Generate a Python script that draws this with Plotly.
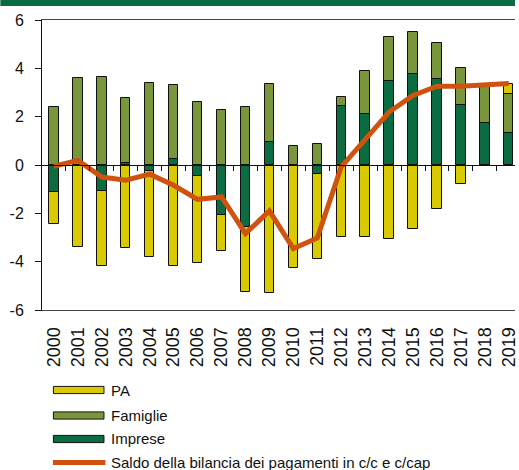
import plotly.graph_objects as go

years = [str(y) for y in range(2000, 2020)]
imprese = [-1.13, 0.0, -1.09, 0.07, -0.25, 0.23, -0.47, -2.06, -2.57, 0.95,
           0.0, -0.39, 2.46, 2.10, 3.46, 3.75, 3.54, 2.48, 1.74, 1.34]
famiglie = [2.39, 3.59, 3.64, 2.69, 3.39, 3.08, 2.59, 2.26, 2.40, 2.39,
            0.77, 0.88, 0.37, 1.79, 1.82, 1.75, 1.51, 1.55, 1.55, 1.58]
pa = [-1.31, -3.41, -3.09, -3.42, -3.57, -4.19, -3.57, -1.51, -2.70, -5.28,
      -4.25, -3.50, -2.99, -2.97, -3.05, -2.65, -1.81, -0.80, -0.03, 0.42]
saldo = [-0.05, 0.19, -0.50, -0.63, -0.38, -0.84, -1.42, -1.32, -2.84, -1.90,
         -3.46, -3.02, -0.08, 1.09, 2.19, 2.88, 3.26, 3.26, 3.30, 3.37]
ytick_vals = [-6, -4, -2, 0, 2, 4, 6]
ytick_text = ["-6", "-4", "-2", "0", "2", "4", "6"]

C_PA = "#D9C900"
C_FAM = "#7A963A"
C_IMP = "#0A6C40"
C_LINE = "#D0520F"
FONT = "Liberation Sans, Arial, sans-serif"

W, H = 519, 470
L, R, T, B = 42, 0, 20, 160
PW, PH = W - L - R, H - T - B

xpos = list(range(len(years)))

fig = go.Figure()
for name, vals, col in [("Imprese", imprese, C_IMP), ("Famiglie", famiglie, C_FAM), ("PA", pa, C_PA)]:
    fig.add_trace(go.Bar(x=xpos, y=vals, name=name, width=0.39,
                         marker=dict(color=col, line=dict(color="#111", width=1)),
                         showlegend=False))
fig.add_trace(go.Scatter(x=xpos, y=saldo, mode="lines", xaxis="x2",
                         name="Saldo della bilancia dei pagamenti in c/c e c/cap",
                         line=dict(color=C_LINE, width=5), showlegend=False))

xr = [-0.5, -0.5 + PW / 24.14]

def px_x(p):
    return (p - L) / PW

def px_y(p):
    return (T + PH - p) / PH

shapes = []
annotations = []
# top banner
shapes.append(dict(type="rect", xref="paper", yref="paper", x0=px_x(0), x1=px_x(W),
                   y0=px_y(6), y1=px_y(0), fillcolor="#0A6B42", line=dict(width=0), layer="above"))
legend_items = [("PA", C_PA, 390.0), ("Famiglie", C_FAM, 415.5), ("Imprese", C_IMP, 439.0)]
for label, col, yc in legend_items:
    shapes.append(dict(type="rect", xref="paper", yref="paper", x0=px_x(53.5), x1=px_x(104.5),
                       y0=px_y(yc + 3.6), y1=px_y(yc - 3.6), fillcolor=col,
                       line=dict(color="#111", width=1)))
    annotations.append(dict(text=label, xref="paper", yref="paper", x=px_x(110), y=px_y(yc),
                            xanchor="left", yanchor="middle", showarrow=False,
                            font=dict(family=FONT, size=15, color="#111")))
shapes.append(dict(type="line", xref="paper", yref="paper", x0=px_x(53), x1=px_x(106),
                   y0=px_y(462.5), y1=px_y(462.5), line=dict(color=C_LINE, width=5)))
annotations.append(dict(text="Saldo della bilancia dei pagamenti in c/c e c/cap", xref="paper", yref="paper",
                        x=px_x(110), y=px_y(462.5), xanchor="left", yanchor="middle", showarrow=False,
                        font=dict(family=FONT, size=15, color="#111")))

fig.update_layout(
    width=W, height=H, margin=dict(l=L, r=R, t=T, b=B, pad=0),
    paper_bgcolor="white", plot_bgcolor="white",
    barmode="relative", bargap=0,
    font=dict(family=FONT, color="#111"),
    xaxis=dict(range=xr, tickvals=xpos, ticktext=years, tickangle=-90,
               tickfont=dict(size=18, family=FONT, color="#111"), ticks="",
               ticklabelstandoff=9, ticklabeloverflow="allow",
               showline=True, linecolor="#444", linewidth=1, mirror=True,
               showgrid=False, zeroline=False, fixedrange=True),
    xaxis2=dict(range=xr, overlaying="x", anchor="free", position=0.5, side="bottom",
                tickvals=[i + 0.5 for i in xpos[:-1]], ticks="outside", ticklen=5,
                tickcolor="#111", showticklabels=False, showline=True, linecolor="#111",
                linewidth=1, showgrid=False, zeroline=False),
    yaxis=dict(range=[-6, 6], tickvals=ytick_vals, ticktext=ytick_text,
               ticks="outside", ticklen=6, tickcolor="#111",
               tickfont=dict(size=16, family=FONT, color="#111"),
               ticklabelstandoff=8, ticklabeloverflow="allow",
               showline=True, linecolor="#111", linewidth=1,
               showgrid=False, zeroline=False),
    shapes=shapes, annotations=annotations,
    showlegend=False,
)

fig.write_html("out.html", config={"displayModeBar": False},
               post_script="document.body.style.margin='0';document.body.style.overflow='hidden';")
